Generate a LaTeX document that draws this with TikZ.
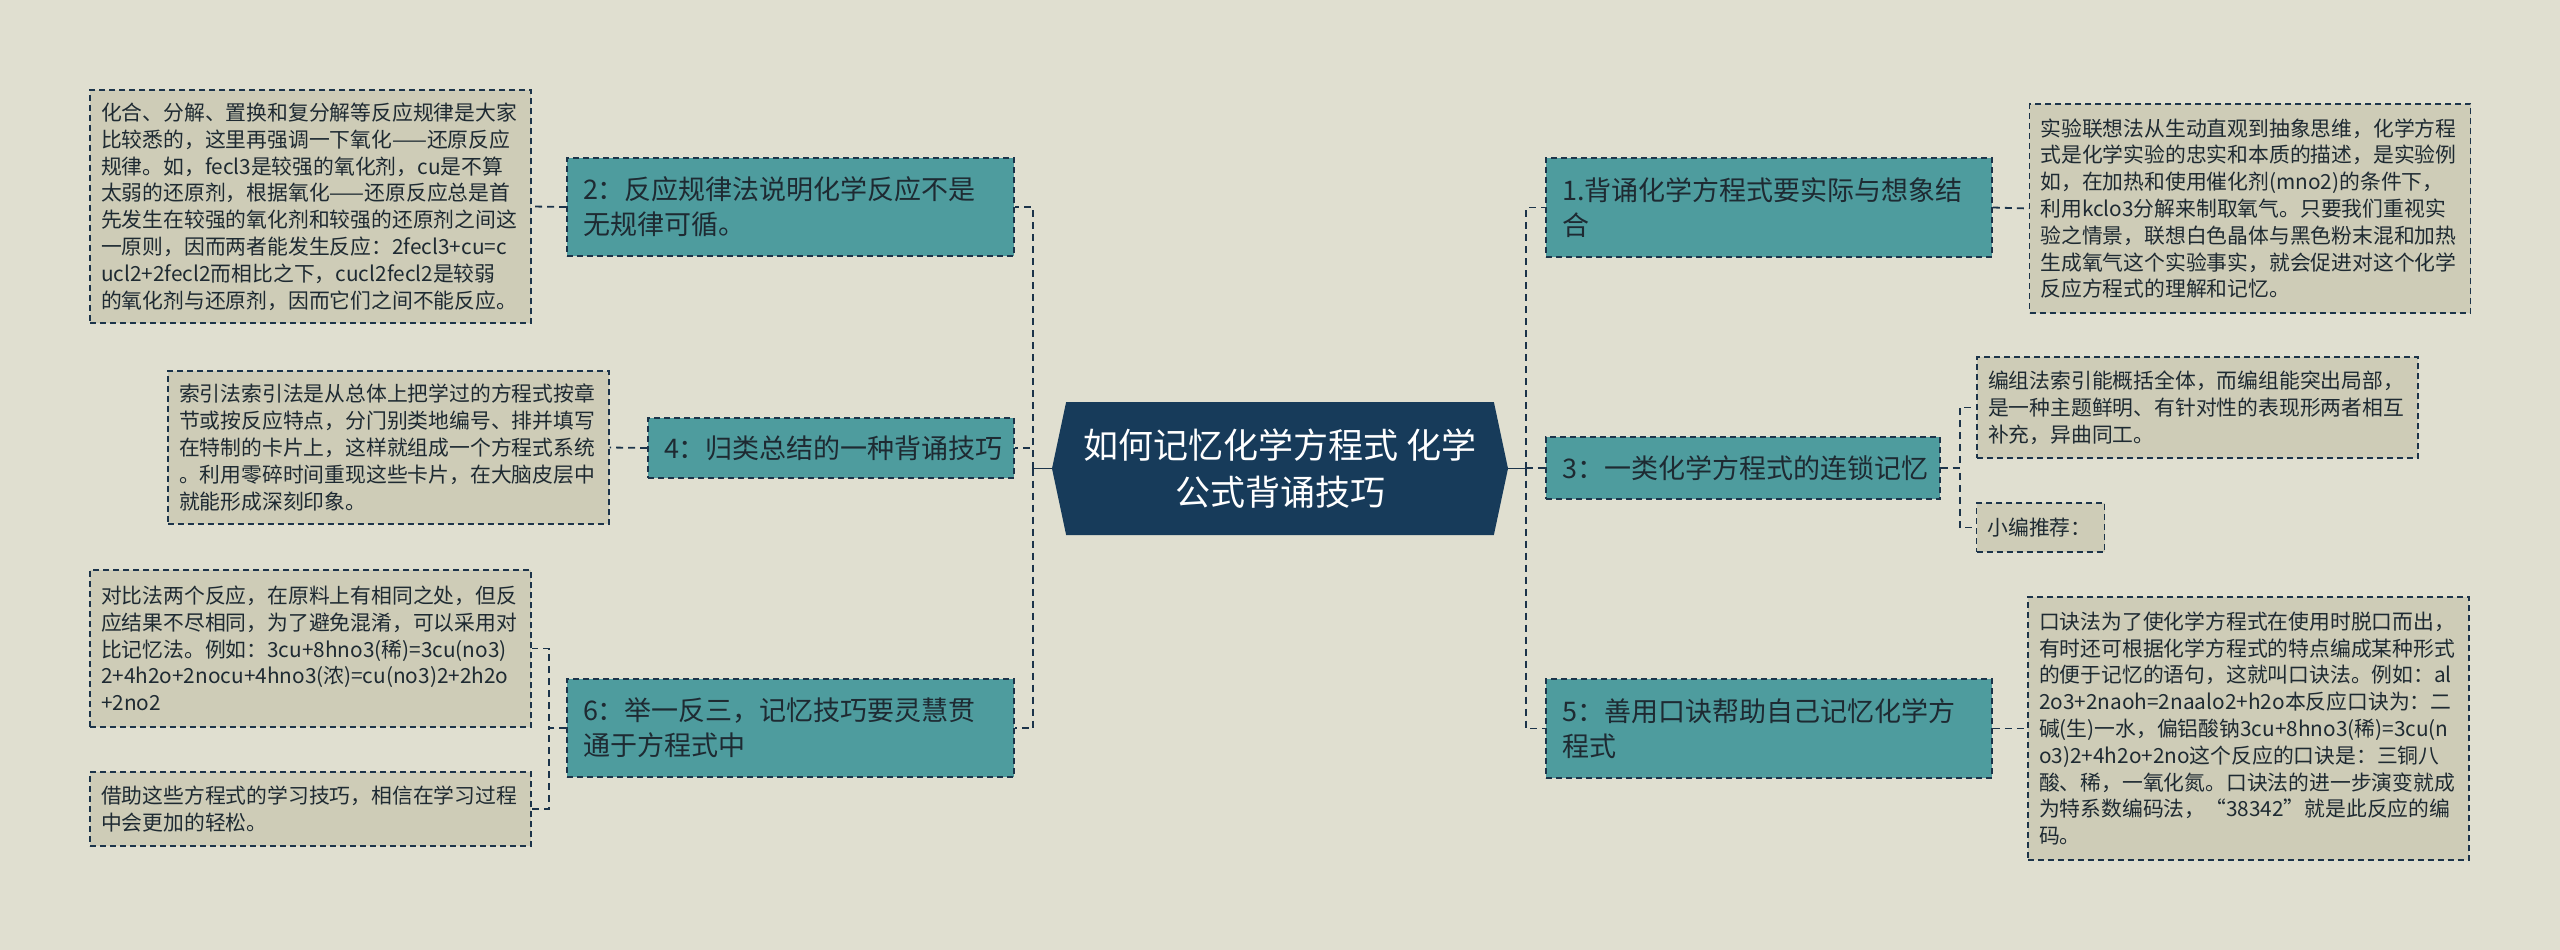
\documentclass[tikz,border=0pt]{standalone}
\usepackage{fontspec}
\newfontfamily\cjk{Noto Sans CJK SC}
\usetikzlibrary{shapes.symbols}

\definecolor{bgcol}{RGB}{224,223,208}
\definecolor{tealcol}{RGB}{78,156,158}
\definecolor{leafcol}{RGB}{206,204,183}
\definecolor{navycol}{RGB}{23,59,90}
\definecolor{linecol}{RGB}{28,52,74}
\definecolor{inkcol}{RGB}{30,42,50}

\begin{document}
\begin{tikzpicture}[x=1pt,y=-1pt,
    title/.style={shape=signal, signal to=west and east, signal pointer angle=156,
        fill=navycol, text=white, align=center, inner sep=0pt,
        minimum width=456pt, minimum height=133pt,
        font={\cjk\fontsize{35pt}{47pt}\selectfont}},
    topic/.style={draw=linecol, line width=1.6pt, dash pattern=on 6pt off 4pt,
        fill=tealcol, text=inkcol, align=left, inner xsep=16pt, inner ysep=0pt,
        font={\cjk\fontsize{27pt}{35pt}\selectfont}},
    note/.style={draw=linecol, line width=1.4pt, dash pattern=on 6pt off 4pt,
        fill=leafcol, text=inkcol, align=left, inner xsep=11pt, inner ysep=0pt,
        text width=419pt, font={\cjk\fontsize{20.8pt}{26.8pt}\selectfont}},
    link/.style={draw=linecol, line width=1.8pt, dash pattern=on 7pt off 5pt},
    hub/.style={draw=linecol, line width=1.8pt}
  ]
    \fill[bgcol] (0,0) rectangle (2560,950);

    \node[title] (Title) at (1280,468.5) {如何记忆化学方程式 化学\\公式背诵技巧};

    % left branches
    \node[topic, text width=415pt, minimum height=98pt] (Rules) at (790.5,207)
        {2：反应规律法说明化学反应不是\\无规律可循。};
    \node[topic, text width=334pt, minimum height=60pt] (Sorting) at (831,448)
        {4：归类总结的一种背诵技巧};
    \node[topic, text width=415pt, minimum height=98pt] (Analogy) at (790.5,728)
        {6：举一反三，记忆技巧要灵慧贯\\通于方程式中};

    \node[note, minimum height=233pt] (RulesNote) at (310.5,206.5) {化合、分解、置换和复分解等反应规律是大家\\
        比较悉的，这里再强调一下氧化——还原反应\\
        规律。如，fecl3是较强的氧化剂，cu是不算\\
        太弱的还原剂，根据氧化——还原反应总是首\\
        先发生在较强的氧化剂和较强的还原剂之间这\\
        一原则，因而两者能发生反应：2fecl3+cu=c\\
        ucl2+2fecl2而相比之下，cucl2fecl2是较弱\\
        的氧化剂与还原剂，因而它们之间不能反应。};
    \node[note, minimum height=153pt] (SortingNote) at (388.5,447.5) {索引法索引法是从总体上把学过的方程式按章\\
        节或按反应特点，分门别类地编号、排并填写\\
        在特制的卡片上，这样就组成一个方程式系统\\
        。利用零碎时间重现这些卡片，在大脑皮层中\\
        就能形成深刻印象。};
    \node[note, minimum height=157pt] (AnalogyNote) at (310.5,648.5) {对比法两个反应，在原料上有相同之处，但反\\
        应结果不尽相同，为了避免混淆，可以采用对\\
        比记忆法。例如：3cu+8hno3(稀)=3cu(no3)\\
        2+4h2o+2nocu+4hno3(浓)=cu(no3)2+2h2o\\
        +2no2};
    \node[note, minimum height=74pt] (AnalogyTip) at (310.5,809) {借助这些方程式的学习技巧，相信在学习过程\\
        中会更加的轻松。};

    % right branches
    \node[topic, text width=414pt, minimum height=99pt] (Imagine) at (1769,207.5)
        {1.背诵化学方程式要实际与想象结\\合};
    \node[topic, text width=362pt, minimum height=62pt] (Chain) at (1743,468)
        {3：一类化学方程式的连锁记忆};
    \node[topic, text width=414pt, minimum height=99pt] (Rhyme) at (1769,728.5)
        {5：善用口诀帮助自己记忆化学方\\程式};

    \node[note, minimum height=209pt] (ImagineNote) at (2250,208.5) {实验联想法从生动直观到抽象思维，化学方程\\
        式是化学实验的忠实和本质的描述，是实验例\\
        如，在加热和使用催化剂(mno2)的条件下，\\
        利用kclo3分解来制取氧气。只要我们重视实\\
        验之情景，联想白色晶体与黑色粉末混和加热\\
        生成氧气这个实验事实，就会促进对这个化学\\
        反应方程式的理解和记忆。};
    \node[note, minimum height=101pt] (ChainNote) at (2197.5,407.5) {编组法索引能概括全体，而编组能突出局部，\\
        是一种主题鲜明、有针对性的表现形两者相互\\
        补充，异曲同工。};
    \node[note, text width=106pt, minimum height=49pt] (ChainTip) at (2040.5,527.5) {小编推荐：};
    \node[note, minimum height=263pt] (RhymeNote) at (2248.5,728.5) {口诀法为了使化学方程式在使用时脱口而出，\\
        有时还可根据化学方程式的特点编成某种形式\\
        的便于记忆的语句，这就叫口诀法。例如：al\\
        2o3+2naoh=2naalo2+h2o本反应口诀为：二\\
        碱(生)一水，偏铝酸钠3cu+8hno3(稀)=3cu(n\\
        o3)2+4h2o+2no这个反应的口诀是：三铜八\\
        酸、稀，一氧化氮。口诀法的进一步演变就成\\
        为特系数编码法，“38342”就是此反应的编\\
        码。};

    % connectors
    \coordinate (LeftHub) at (1033,468.5);
    \coordinate (RightHub) at (1526,468.5);
    \draw[hub] (Title.west) -- (LeftHub);
    \draw[hub] (Title.east) -- (RightHub);
    \draw[link] (LeftHub) |- (Rules.east);
    \draw[link] (LeftHub) |- (Sorting.east);
    \draw[link] (LeftHub) |- (Analogy.east);
    \draw[link] (RightHub) |- (Imagine.west);
    \draw[link] (RightHub) |- (Chain.west);
    \draw[link] (RightHub) |- (Rhyme.west);

    \draw[link] (Rules.west) -- (RulesNote.east);
    \draw[link] (Sorting.west) -- (SortingNote.east);
    \draw[link] (Analogy.west) -- ++(-17,0) |- (AnalogyNote.east);
    \draw[link] (Analogy.west) -- ++(-17,0) |- (AnalogyTip.east);
    \draw[link] (Imagine.east) -- (ImagineNote.west);
    \draw[link] (Chain.east) -- ++(19,0) |- (ChainNote.west);
    \draw[link] (Chain.east) -- ++(19,0) |- (ChainTip.west);
    \draw[link] (Rhyme.east) -- (RhymeNote.west);
\end{tikzpicture}
\end{document}
